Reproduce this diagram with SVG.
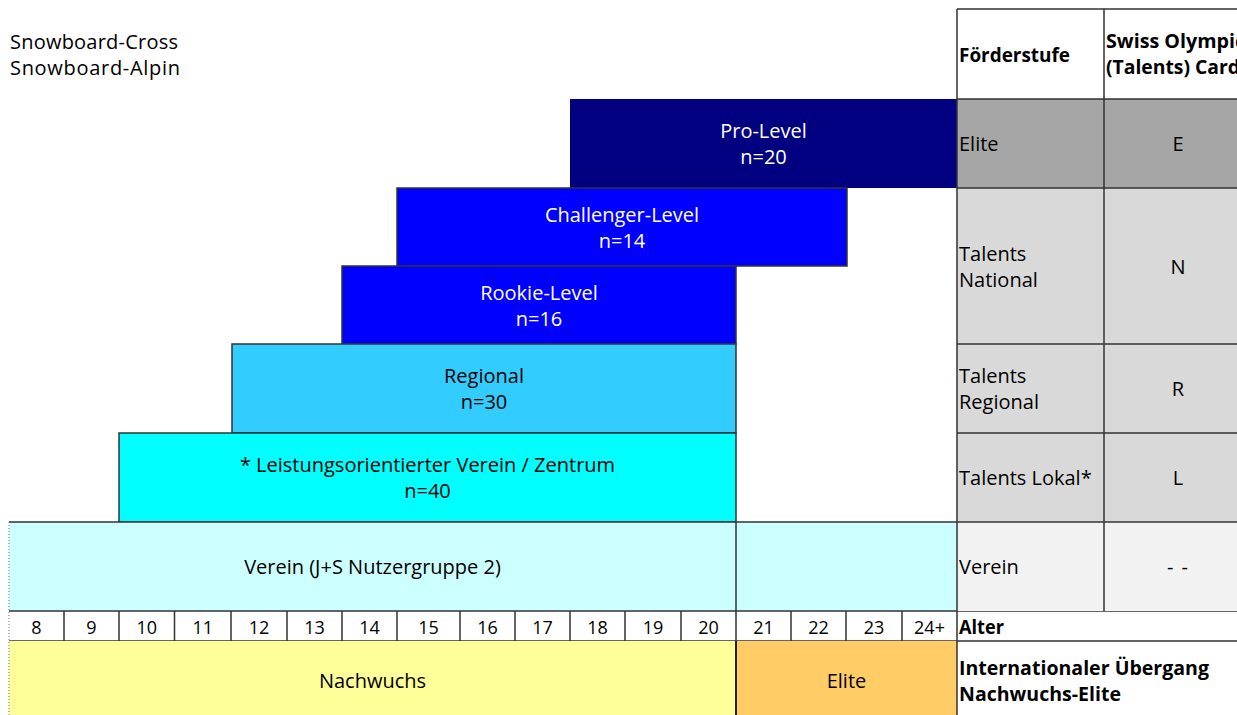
<svg xmlns="http://www.w3.org/2000/svg" width="1237" height="715" viewBox="0 0 1237 715">
<style>
text{font-family:"Open Sans","Liberation Sans",sans-serif;font-size:20px;fill:#000}
.w{fill:#fff}
.c{text-anchor:middle}
.b{font-weight:bold;font-size:19px}
.age{font-size:18px;text-anchor:middle}
.box{stroke:#333;stroke-width:1.5}
.ln{stroke:#333;stroke-width:1.5;fill:none}
</style>
<rect width="1237" height="715" fill="#fff"/>
<g id="title">
<text x="10" y="49" textLength="168" lengthAdjust="spacing">Snowboard-Cross</text>
<text x="10" y="75" textLength="170" lengthAdjust="spacing">Snowboard-Alpin</text>
</g>
<g id="pro-level">
<rect x="570" y="99" width="387" height="89" fill="#000080"/>
<text class="w c" x="763.5" y="138">Pro-Level</text>
<text class="w c" x="763.5" y="164">n=20</text>
</g>
<g id="challenger-level">
<rect class="box" x="397" y="188" width="450" height="78" fill="#0000FF"/>
<text class="w c" x="622" y="222">Challenger-Level</text>
<text class="w c" x="622" y="248">n=14</text>
</g>
<g id="rookie-level">
<rect class="box" x="342" y="266" width="394" height="78" fill="#0000FF"/>
<text class="w c" x="539" y="300">Rookie-Level</text>
<text class="w c" x="539" y="326">n=16</text>
</g>
<g id="regional">
<rect class="box" x="232" y="344" width="504" height="89" fill="#33CCFF"/>
<text class="c" x="484" y="383">Regional</text>
<text class="c" x="484" y="409">n=30</text>
</g>
<g id="leistungsorientiert">
<rect class="box" x="119" y="433" width="617" height="89" fill="#00FFFF"/>
<text class="c" x="427.5" y="472">* Leistungsorientierter Verein / Zentrum</text>
<text class="c" x="427.5" y="498">n=40</text>
</g>
<g id="verein">
<rect x="9" y="522" width="948" height="89" fill="#CCFFFF"/>
<line class="ln" x1="9" y1="522" x2="957" y2="522"/>
<line class="ln" x1="736" y1="522" x2="736" y2="611"/>
<text class="c" x="372.5" y="574">Verein (J+S Nutzergruppe 2)</text>
</g>
<g id="alter">
<rect x="9" y="611" width="948" height="30" fill="#fff"/>
<path class="ln" d="M9 611H1237M9 641H1237M64 611V641M119 611V641M174.5 611V641M231 611V641M287 611V641M342 611V641M397 611V641M460 611V641M515 611V641M570 611V641M625 611V641M681 611V641M736 611V641M791 611V641M846 611V641M902 611V641"/>
<text class="age" x="36.5" y="634">8</text>
<text class="age" x="91.5" y="634">9</text>
<text class="age" x="146.7" y="634">10</text>
<text class="age" x="202.7" y="634">11</text>
<text class="age" x="259" y="634">12</text>
<text class="age" x="314.5" y="634">13</text>
<text class="age" x="369.5" y="634">14</text>
<text class="age" x="428.5" y="634">15</text>
<text class="age" x="487.5" y="634">16</text>
<text class="age" x="542.5" y="634">17</text>
<text class="age" x="597.5" y="634">18</text>
<text class="age" x="653" y="634">19</text>
<text class="age" x="708.5" y="634">20</text>
<text class="age" x="763.5" y="634">21</text>
<text class="age" x="818.5" y="634">22</text>
<text class="age" x="874" y="634">23</text>
<text class="age" x="929.5" y="634">24+</text>
</g>
<g id="nachwuchs">
<rect x="9" y="641" width="727" height="74" fill="#FFFF99"/>
<text class="c" x="372.5" y="688">Nachwuchs</text>
</g>
<g id="elite-phase">
<rect x="736" y="641" width="221" height="74" fill="#FFCC66"/>
<line x1="736" y1="641" x2="736" y2="715" stroke="#222" stroke-width="2"/>
<text class="c" x="846.5" y="688">Elite</text>
</g>
<line x1="9" y1="522" x2="9" y2="715" stroke="#777" stroke-width="1" stroke-dasharray="1,2"/>
<g id="table">
<rect x="957" y="99" width="280" height="89" fill="#A6A6A6"/>
<rect x="957" y="188" width="280" height="334" fill="#D9D9D9"/>
<rect x="957" y="522" width="280" height="89" fill="#F2F2F2"/>
<path class="ln" d="M957 9H1237M957 99H1237M957 188H1237M957 344H1237M957 433H1237M957 522H1237M957 9V715M1104 9V611"/>
<text class="b" x="959" y="62" textLength="111" lengthAdjust="spacingAndGlyphs">Förderstufe</text>
<text class="b" x="1106" y="48" textLength="139" lengthAdjust="spacingAndGlyphs">Swiss Olympic</text>
<text class="b" x="1106" y="74" textLength="134" lengthAdjust="spacingAndGlyphs">(Talents) Card</text>
<text x="959" y="151">Elite</text>
<text class="c" x="1178" y="151">E</text>
<text x="959" y="261">Talents</text>
<text x="959" y="287">National</text>
<text class="c" x="1178" y="274">N</text>
<text x="959" y="383">Talents</text>
<text x="959" y="409">Regional</text>
<text class="c" x="1178" y="396">R</text>
<text x="959" y="485">Talents Lokal*</text>
<text class="c" x="1178" y="485">L</text>
<text x="959" y="574">Verein</text>
<text x="1167" y="574" textLength="21" lengthAdjust="spacing">--</text>
<text class="b" x="959" y="634" textLength="45" lengthAdjust="spacingAndGlyphs">Alter</text>
<text class="b" x="959" y="675" textLength="250" lengthAdjust="spacingAndGlyphs">Internationaler Übergang</text>
<text class="b" x="959" y="701" textLength="162" lengthAdjust="spacingAndGlyphs">Nachwuchs-Elite</text>
</g>
<g id="connectors"></g>
</svg>
